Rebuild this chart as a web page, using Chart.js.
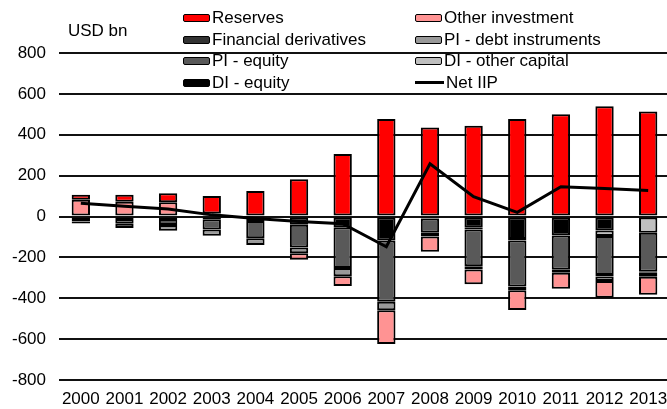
<!DOCTYPE html>
<html>
<head>
<meta charset="utf-8">
<script src="https://cdn.jsdelivr.net/npm/chart.js@4"></script>
<style>
	body { margin: 0; background: #fff; overflow: hidden; }
	#clip { width: 667px; height: 409px; overflow: hidden; }
	#wrap { position: relative; width: 670px; height: 409px; font-family: "Liberation Sans", Arial, sans-serif; }
	#unit { position: absolute; left: 68px; top: 21px; font-size: 17px; color: #000; }
	#legend { position: absolute; left: 183px; top: 7px; display: grid; grid-template-columns: 232px 200px; grid-auto-rows: 21.7px; font-size: 17px; color: #000; }
	#legend div { display: flex; align-items: center; white-space: nowrap; }
	#legend span.box { display: inline-block; width: 25px; height: 6px; border: 1.5px solid #000; border-radius: 2px; margin-right: 2px; }
	#legend span.line { display: inline-block; width: 29px; height: 3px; background: #000; margin-right: 2px; }
</style>
</head>
<body>
<div id="clip">
<div id="wrap">
	<canvas id="chart"></canvas>
	<div id="unit">USD bn</div>
	<div id="legend"></div>
</div>
</div>
<script>
// Data (USD bn).
const years = ['2000', '2001', '2002', '2003', '2004', '2005', '2006', '2007', '2008', '2009', '2010', '2011', '2012', '2013'];
const reserves = [25, 35, 44, 85, 125, 182, 306, 477, 436, 444, 477, 500, 540, 514];
const otherInvestment = [82, 72, 70, 15, null, -32, -48, -165, -75, -72, -96, -78, -82, -88];
const financialDerivatives = [null, null, null, null, null, null, null, null, -18, -16, -18, -14, -8, -5];
const piDebt = [-10, -20, -28, -30, -34, -28, -40, -42, null, null, null, null, -22, -20];
const piEquity = [null, -24, -30, -50, -84, -112, -200, -300, -70, -180, -225, -168, -190, -190];
const diOtherCapital = [null, null, null, null, null, null, null, null, -10, -8, -8, null, -28, -80];
const diEquity = [-24, -12, -12, -14, -22, -40, -52, -117, null, -55, -110, -93, -68, null];
const netIIP = [65, 50, 37, 8, -10, -25, -35, -148, 258, 97, 20, 146, 137, 127];

const yTicks = [-800, -600, -400, -200, 0, 200, 400, 600, 800];

// Legend reads row by row, two columns.
const legendOrder = ['Reserves', 'Other investment', 'Financial derivatives', 'PI - debt instruments',
	'PI - equity', 'DI - other capital', 'DI - equity', 'Net IIP'];

const font = { family: '"Liberation Sans", Arial, sans-serif', size: 17 };

// Bar dataset helper, stacked from zero outwards in array order.
function bar(label, data, color) {
	return {
		type: 'bar', label: label, data: data, backgroundColor: color,
		borderColor: '#000', borderWidth: 2, borderSkipped: false,
		barPercentage: 0.42, categoryPercentage: 1, order: 1
	};
}

const datasets = [
	bar('DI - equity', diEquity, '#000000'),
	bar('DI - other capital', diOtherCapital, '#bfbfbf'),
	bar('PI - equity', piEquity, '#595959'),
	bar('Financial derivatives', financialDerivatives, '#333333'),
	bar('PI - debt instruments', piDebt, '#999999'),
	bar('Other investment', otherInvestment, '#ff9393'),
	bar('Reserves', reserves, '#ff0000'),
	{
		type: 'line', label: 'Net IIP', data: netIIP, borderColor: '#000', backgroundColor: '#000',
		borderWidth: 3, pointRadius: 0, tension: 0, order: 0, stack: 'line'
	}
];

// Build the legend as html, two columns like the original.
function buildLegend() {
	const legend = document.querySelector('#legend');
	legend.textContent = '';
	for (const name of legendOrder) {
		const ds = datasets.find(d => d.label === name);
		const item = document.createElement('div');
		const mark = document.createElement('span');
		if (ds.type === 'line') {
			mark.className = 'line';
		} else {
			mark.className = 'box';
			mark.style.background = ds.backgroundColor;
		}
		item.appendChild(mark);
		item.appendChild(document.createTextNode(name));
		legend.appendChild(item);
	}
}

const ctx = document.querySelector('#chart').getContext('2d');
new Chart(ctx, {
	data: { labels: years, datasets: datasets },
	options: {
		responsive: true,
		maintainAspectRatio: false,
		animation: false,
		layout: { padding: { top: 53, left: 0, right: 0, bottom: 0 } },
		plugins: { legend: { display: false }, tooltip: { enabled: false } },
		scales: {
			x: {
				stacked: true,
				offset: true,
				grid: { display: false, drawTicks: false },
				border: { display: false },
				ticks: { color: '#000', font: font, padding: 9, maxRotation: 0, autoSkip: false },
				afterFit: function (scale) {
					scale.height = 29;
					scale.paddingLeft = 0;
					scale.paddingRight = 0;
				}
			},
			y: {
				stacked: true,
				min: -800,
				max: 800,
				afterBuildTicks: function (scale) { scale.ticks = yTicks.map(v => ({ value: v })); },
				grid: { color: '#111', lineWidth: 2, drawTicks: false },
				border: { display: false },
				ticks: { color: '#000', font: font, padding: 13 },
				afterFit: function (scale) { scale.width = 59; }
			}
		}
	}
});

buildLegend();
</script>
</body>
</html>
